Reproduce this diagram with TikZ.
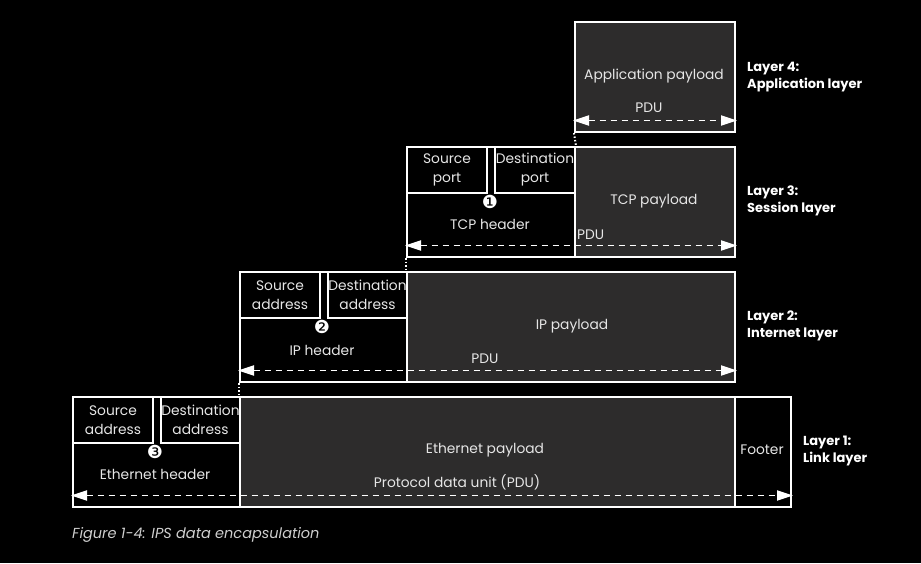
\documentclass[tikz,border=0pt]{standalone}
\usepackage{fontspec}
\setmainfont{Poppins}
\newfontfamily\dejavu{DejaVu Sans}
\usetikzlibrary{arrows.meta}
\definecolor{paygray}{HTML}{2D2C2C}
\definecolor{txtgray}{HTML}{E6E6E6}
\definecolor{capgray}{HTML}{CFCFCF}
\tikzset{
  blk/.style={draw=white, line width=2pt, fill=black, anchor=north west, inner sep=0pt, minimum height=110pt},
  pay/.style={blk, fill=paygray},
  sub/.style={draw=white, line width=2pt, fill=black, anchor=north west, inner sep=0pt, minimum height=46pt, text=txtgray, align=center, font=\fontsize{13.8}{19}\selectfont},
  lbl/.style={text=txtgray, font=\fontsize{13.8}{17}\selectfont, inner sep=0pt},
  num/.style={text=white, font=\dejavu\fontsize{18}{18}\selectfont, inner sep=0pt},
  layer/.style={text=white, font=\bfseries\fontsize{13}{17}\selectfont, align=left, anchor=west, inner sep=0pt},
  pdu/.style={white, line width=1.8pt, dash pattern=on 6pt off 5pt, {Triangle[length=16pt,width=10pt]}-{Triangle[length=16pt,width=10pt]}, shorten <=-1pt, shorten >=-1pt},
  conn/.style={white, line width=2pt, dash pattern=on 1.5pt off 2pt},
}
\begin{document}
\begin{tikzpicture}[x=1pt,y=-1pt]
\fill[black] (0,0) rectangle (921,563);
\useasboundingbox (0,0) rectangle (921,563);
% Layer 4
\node[pay, minimum width=160pt] (p4) at (574,21) {};
% Layer 3
\node[blk, minimum width=168pt] (h3) at (406,146) {};
\node[pay, minimum width=160pt] (p3) at (574,146) {};
\node[sub, minimum width=80pt] (s3) at (406,146) {Source\\port};
\node[sub, minimum width=80pt] (d3) at (494,146) {Destination\\port};
% Layer 2
\node[blk, minimum width=167pt] (h2) at (239,271) {};
\node[pay, minimum width=328pt] (p2) at (406,271) {};
\node[sub, minimum width=80pt] (s2) at (239,271) {Source\\address};
\node[sub, minimum width=79pt] (d2) at (327,271) {Destination\\address};
% Layer 1
\node[blk, minimum width=167pt] (h1) at (72,396) {};
\node[pay, minimum width=495pt] (p1) at (239,396) {};
\node[blk, minimum width=56pt] (f1) at (734,396) {};
\node[sub, minimum width=80pt] (s1) at (72,396) {Source\\address};
\node[sub, minimum width=79pt] (d1) at (160,396) {Destination\\address};
% texts
\node[lbl] (t4) at (654,76) {Application payload};
\node[lbl] (q4) at (649,108) {PDU};
\node[lbl] (t3) at (654,201) {TCP payload};
\node[num] (n1) at (490,202) {❶};
\node[lbl] (th3) at (490,224) {TCP header};
\node[lbl, anchor=west] (q3) at (577,235) {PDU};
\node[lbl] (t2) at (572,326) {IP payload};
\node[num] (n2) at (322,327) {❷};
\node[lbl] (th2) at (322,350) {IP header};
\node[lbl] (q2) at (485,359) {PDU};
\node[lbl] (t1) at (485,450) {Ethernet payload};
\node[lbl] (fo) at (762,450) {Footer};
\node[num] (n3) at (155,452) {❸};
\node[lbl] (th1) at (155,474) {Ethernet header};
\node[lbl] (q1) at (457,482) {Protocol data unit (PDU)};
% PDU arrows
\draw[pdu] ([yshift=12.5pt]p4.south west) -- ([yshift=12.5pt]p4.south east);
\draw[pdu] ([yshift=12.5pt]h3.south west) -- ([yshift=12.5pt]p3.south east);
\draw[pdu] ([yshift=12.5pt]h2.south west) -- ([yshift=12.5pt]p2.south east);
\draw[pdu] ([yshift=12.5pt]h1.south west) -- ([yshift=12.5pt]f1.south east);
% dotted connectors
\draw[conn] (p4.south west) -- (h3.north east);
\draw[conn] (h3.south west) -- (p2.north west);
\draw[conn] (h2.south west) -- (p1.north west);
% layer labels
\node[layer] (l4) at (747,77) {Layer 4:\\Application layer};
\node[layer] (l3) at (747,201) {Layer 3:\\Session layer};
\node[layer] (l2) at (747,326) {Layer 2:\\Internet layer};
\node[layer] (l1) at (803,451) {Layer 1:\\Link layer};
\node[text=capgray, font=\itshape\fontsize{14.5}{16}\selectfont, anchor=west, inner sep=0pt] (cap) at (72,535) {Figure 1-4: IPS data encapsulation};
\end{tikzpicture}
\end{document}
